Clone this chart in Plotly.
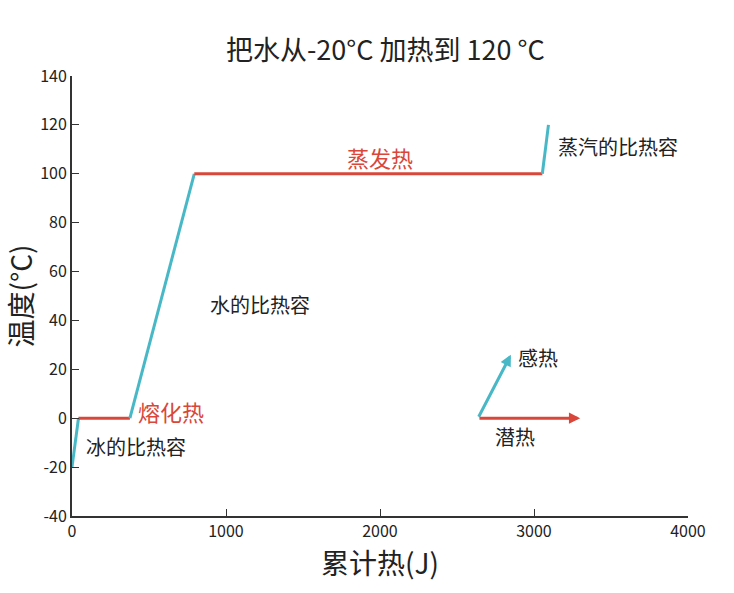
import plotly.graph_objects as go

# Heating curve data (cumulative heat J, temperature °C)
ice_x = [0, 42]
ice_y = [-20, 0]
melt_x = [42, 376]
melt_y = [0, 0]
water_x = [376, 794]
water_y = [0, 100]
vap_x = [794, 3054]
vap_y = [100, 100]
steam_x = [3054, 3094]
steam_y = [100, 120]

x_ticks = [0, 1000, 2000, 3000, 4000]
y_ticks = [-40, -20, 0, 20, 40, 60, 80, 100, 120, 140]
y_tick_text = ["-40", "-20", "0", "20", "40", "60", "80", "100", "120", "140"]

# legend arrows
arrow_origin = [2636, 0]
sensible_tip = [2850, 26]
latent_tip = [3300, 0]

TEAL = "#48b8c6"
RED = "#d9473b"
FONT = "Noto Sans CJK SC"

fig = go.Figure()
for xs, ys, c in [(ice_x, ice_y, TEAL), (melt_x, melt_y, RED), (water_x, water_y, TEAL),
                  (vap_x, vap_y, RED), (steam_x, steam_y, TEAL)]:
    fig.add_trace(go.Scatter(x=xs, y=ys, mode="lines", line=dict(color=c, width=3),
                             showlegend=False, hoverinfo="skip"))

ann = [
    dict(x=78, y=-11.5, text="冰的比热容", xanchor="left", font=dict(size=20, color="#222")),
    dict(x=415, y=3, text="熔化热", xanchor="left", font=dict(size=22, color=RED)),
    dict(x=885, y=46.5, text="水的比热容", xanchor="left", font=dict(size=20, color="#222")),
    dict(x=2000, y=107, text="蒸发热", xanchor="center", font=dict(size=22, color=RED)),
    dict(x=3140, y=111, text="蒸汽的比热容", xanchor="left", font=dict(size=20, color="#222")),
    dict(x=2885, y=25, text="感热", xanchor="left", font=dict(size=20, color="#222")),
    dict(x=2877, y=-7.5, text="潜热", xanchor="center", font=dict(size=20, color="#222")),
]
for a in ann:
    fig.add_annotation(showarrow=False, xref="x", yref="y", yanchor="middle", **a)

for tip, c in [(sensible_tip, TEAL), (latent_tip, RED)]:
    fig.add_annotation(x=tip[0], y=tip[1], ax=arrow_origin[0], ay=arrow_origin[1],
                       xref="x", yref="y", axref="x", ayref="y", text="",
                       showarrow=True, arrowhead=2, arrowsize=0.75, arrowwidth=3, arrowcolor=c)

fig.update_layout(
    width=734, height=593,
    margin=dict(l=72, r=46, t=76, b=77),
    plot_bgcolor="white", paper_bgcolor="white",
    font=dict(family=FONT, color="#222"),
    title=dict(text="把水从-20°C 加热到 120 °C", x=0.525, xanchor="center", y=0.915, yanchor="middle",
               font=dict(size=27, color="#222", family=FONT)),
    xaxis=dict(range=[0, 4000], tickvals=x_ticks, showgrid=False, zeroline=False,
               showline=True, linecolor="#333", linewidth=2, ticks="inside", ticklen=7, tickcolor="#333",
               tickfont=dict(size=16, family=FONT), title=dict(text="累计热(J)", font=dict(size=28, family=FONT), standoff=6)),
    yaxis=dict(range=[-40, 140], tickvals=y_ticks, ticktext=y_tick_text, showgrid=False, zeroline=False,
               showline=True, linecolor="#333", linewidth=2, ticks="inside", ticklen=7, tickcolor="#333",
               tickfont=dict(size=16, family=FONT), title=dict(text="温度(°C)", font=dict(size=28, family=FONT), standoff=4)),
)
fig.write_html("out.html")
